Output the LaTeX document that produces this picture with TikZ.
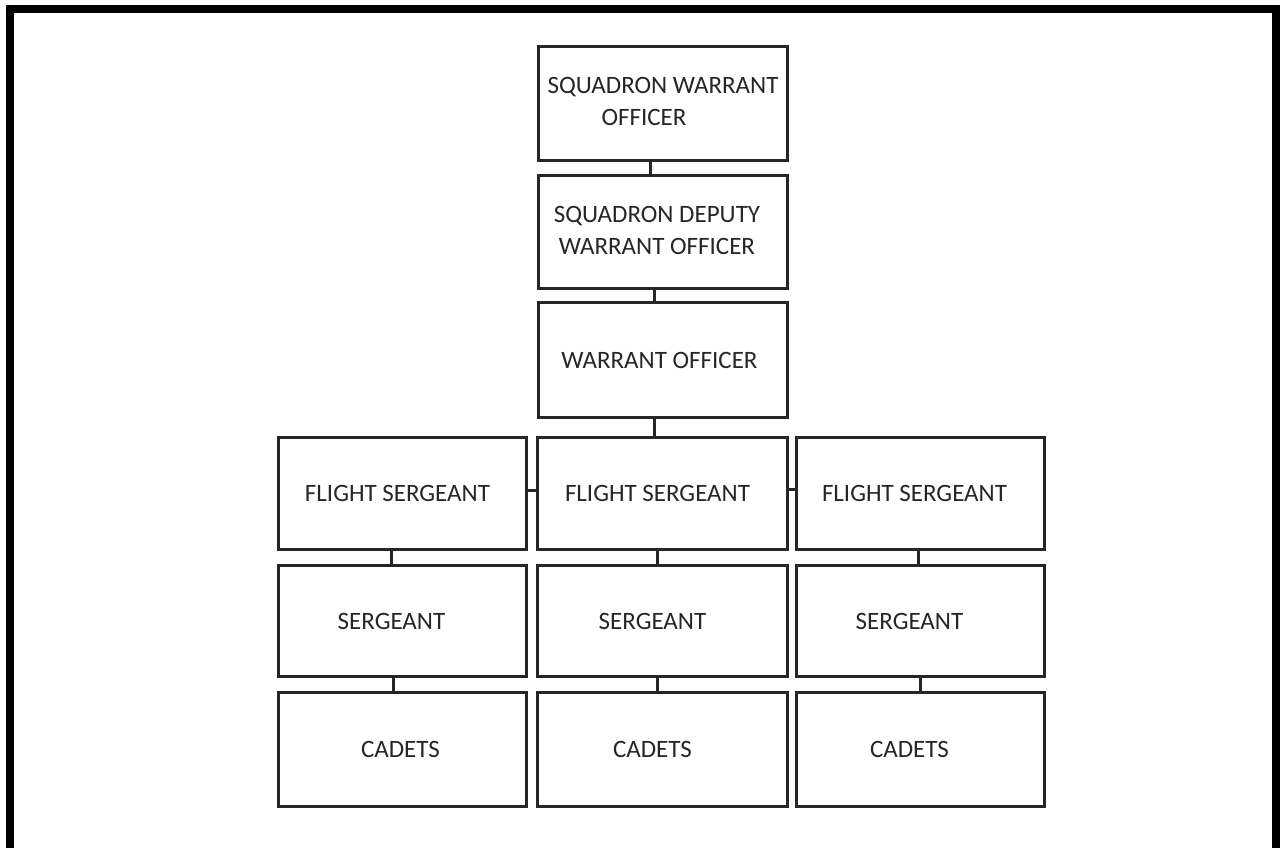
\documentclass[tikz,border=0pt]{standalone}
\usepackage{fontspec}
\setmainfont{Carlito}
\begin{document}
\begin{tikzpicture}[x=1pt,y=-1pt,
  rankbox/.style={draw=black!85, line width=3pt, rectangle, inner sep=0pt, anchor=north west,
    font=\fontsize{25}{32}\selectfont, text=black!85, align=center},
  link/.style={draw=black!85, line width=3pt}]
\useasboundingbox (0,0) rectangle (1280,848);
\draw[line width=8pt] (10,9) rectangle (1276,852);
% boxes
\node[rankbox, minimum width=249pt, minimum height=114pt] (swo) at (537,45)
  {\begin{tabular}{@{}l@{}}SQUADRON WARRANT\\\hspace*{54pt}OFFICER\end{tabular}};
\node[rankbox, minimum width=249pt, minimum height=113pt] (sdwo) at (537,174)
  {\begin{tabular}{@{}c@{}}SQUADRON DEPUTY\\WARRANT OFFICER\end{tabular}\hspace*{12pt}};
\node[rankbox, minimum width=249pt, minimum height=115pt] (wo) at (537,301) {WARRANT OFFICER\hspace*{7pt}};
\node[rankbox, minimum width=248pt, minimum height=112pt] (fsl) at (277,436) {FLIGHT SERGEANT\hspace*{10pt}};
\node[rankbox, minimum width=250pt, minimum height=112pt] (fsm) at (536,436) {FLIGHT SERGEANT\hspace*{10pt}};
\node[rankbox, minimum width=248pt, minimum height=112pt] (fsr) at (795,436) {FLIGHT SERGEANT\hspace*{12pt}};
\node[rankbox, minimum width=248pt, minimum height=111pt] (sgl) at (277,564) {SERGEANT\hspace*{22pt}};
\node[rankbox, minimum width=250pt, minimum height=111pt] (sgm) at (536,564) {SERGEANT\hspace*{20pt}};
\node[rankbox, minimum width=248pt, minimum height=111pt] (sgr) at (795,564) {SERGEANT\hspace*{22pt}};
\node[rankbox, minimum width=248pt, minimum height=114pt] (cdl) at (277,691) {CADETS\hspace*{4pt}};
\node[rankbox, minimum width=250pt, minimum height=114pt] (cdm) at (536,691) {CADETS\hspace*{20pt}};
\node[rankbox, minimum width=248pt, minimum height=114pt] (cdr) at (795,691) {CADETS\hspace*{22pt}};
% connectors
\draw[link] ([xshift=-12.5pt]swo.south) -- ([xshift=-12.5pt]sdwo.north);
\draw[link] ([xshift=-8.5pt]sdwo.south) -- ([xshift=-8.5pt]wo.north);
\draw[link] ([xshift=-8.5pt]wo.south) -- ([xshift=-8pt]fsm.north);
\draw[link] ([yshift=3pt]fsl.east) -- ([yshift=3pt]fsm.west);
\draw[link] ([yshift=4pt]fsm.east) -- ([yshift=4pt]fsr.west);
\draw[link] ([xshift=-11pt]fsl.south) -- ([xshift=-11pt]sgl.north);
\draw[link] ([xshift=-5pt]fsm.south) -- ([xshift=-5pt]sgm.north);
\draw[link] ([xshift=-2pt]fsr.south) -- ([xshift=-2pt]sgr.north);
\draw[link] ([xshift=-9pt]sgl.south) -- ([xshift=-9pt]cdl.north);
\draw[link] ([xshift=-5pt]sgm.south) -- ([xshift=-5pt]cdm.north);
\draw[link] ([xshift=-0.5pt]sgr.south) -- ([xshift=-0.5pt]cdr.north);
\end{tikzpicture}
\end{document}
